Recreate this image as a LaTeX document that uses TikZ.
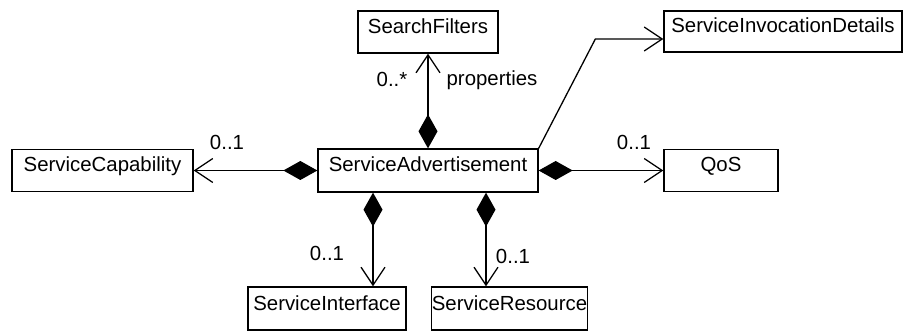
\documentclass[tikz,border=0pt]{standalone}
\usepackage{fontspec}
\setmainfont{Liberation Sans}
\usetikzlibrary{arrows.meta}
\begin{document}
\begin{tikzpicture}[x=0.5pt,y=-0.5pt,font=\fontsize{10.2}{12}\selectfont,
    cls/.style={draw,line width=0.65pt,minimum height=21pt,inner sep=0pt,
      text height=0.72em,text depth=0.57em},
    assoc/.style={line width=0.65pt,-{Straight Barb[length=9pt,width=12pt]}},
    comp/.style={line width=0.65pt,{Diamond[length=17pt,width=9.5pt]}-{Straight Barb[length=9pt,width=12pt]}}]
  \useasboundingbox (0,0) rectangle (904,331);
  % classes
  \node[cls,minimum width=110pt,minimum height=21.5pt] (sa) at (428,170.5) {ServiceAdvertisement};
  \node[cls,minimum width=70pt] (sf) at (428,32) {SearchFilters};
  \node[cls,minimum width=119pt,minimum height=20.5pt] (sid) at (783,31.5) {ServiceInvocationDetails};
  \node[cls,minimum width=90.5pt] (sc) at (102.5,170.5) {ServiceCapability};
  \node[cls,minimum width=57pt] (qos) at (721,170.5) {QoS};
  \node[cls,minimum width=79pt,minimum height=21.5pt] (si) at (327,308.5) {ServiceInterface};
  \node[cls,minimum width=67.5pt,minimum height=21.5pt] (sr) at (509.5,308.5) {ServiceResource};
  % associations
  \draw[comp] (sa.north) -- (sf.south);
  \draw[comp] (sa.west) -- (sc.east);
  \draw[comp] (sa.east) -- (qos.west);
  \draw[comp] ([xshift=-27.5pt]sa.south) -- ([xshift=-27.5pt]sa.south |- si.north);
  \draw[comp] ([xshift=29pt]sa.south) -- ([xshift=29pt]sa.south |- sr.north);
  \draw[assoc] (sa.north east) -- ([xshift=-34pt,yshift=-3.75pt]sid.west) -- ([yshift=-3.75pt]sid.west);
  % multiplicities
  \node (lsf) at (392,79) {0..*};
  \node (lprop) at (492,80) {properties};
  \node (lsc) at (227,142) {0..1};
  \node (lqos) at (634,142) {0..1};
  \node (lsi) at (327,253) {0..1};
  \node (lsr) at (513,256) {0..1};
\end{tikzpicture}
\end{document}
